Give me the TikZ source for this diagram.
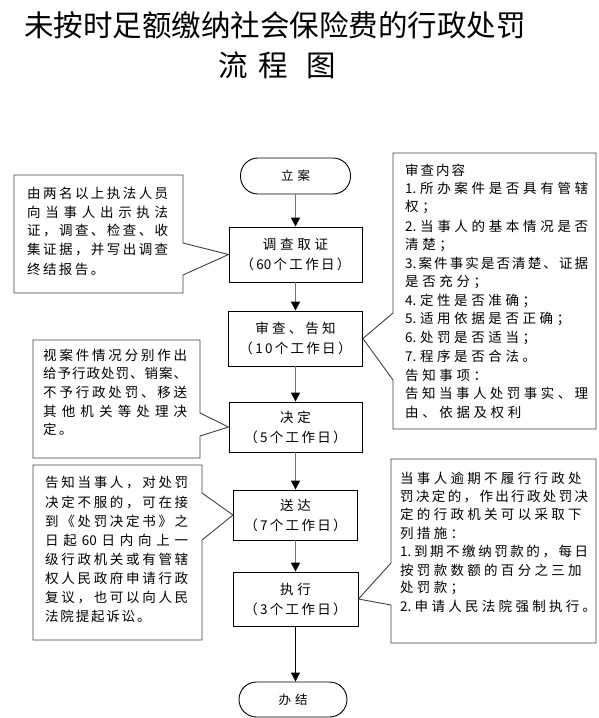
\documentclass[tikz,border=0pt]{standalone}
\usepackage{fontspec}
\setmainfont{Noto Sans CJK SC}
\usetikzlibrary{arrows.meta}
\newdimen\jgap
\newdimen\jw
\def\jstop{JSTOP}
\newcommand\jfirst[1]{#1\jrest}
\newcommand\jrest[1]{\ifx\jstop#1\else\hskip\jgap plus 1fil\relax#1\expandafter\jrest\fi}
\newcommand\JL[1]{\hbox to\jw{\jfirst#1\jstop}}
\newcommand\NL[1]{\hbox{\jfirst#1\jstop}}
\newcommand\G[2]{{\setlength\jgap{#1}\NL{#2}}}
\newcommand\JG[2]{{\setlength\jgap{#1}\JL{#2}}}
\def\dA{1.}\def\dB{2.}\def\dC{3.}\def\dD{4.}\def\dE{5.}\def\dF{6.}\def\dG{7.}
\def\sixty{60}
\newcommand\fs{\fontsize{13.5}{16}\selectfont}
\begin{document}
\begin{tikzpicture}[x=1pt,y=-1pt,
  stepbox/.style={draw=black, line width=0.9pt, inner sep=0pt, align=center,
    font={\fontsize{13.5}{20}\selectfont}},
  term/.style={draw=black, line width=0.9pt, inner sep=0pt, minimum width=110pt,
    minimum height=36pt, rounded corners=17.5pt, font={\fontsize{12.5}{15}\selectfont}},
  conn/.style={draw=black!55, line width=1.5pt,
    -{Triangle[length=9pt,width=9pt,color=black,fill=black]}},
  callout/.style={draw=black!75, line width=0.9pt},
  txt/.style={anchor=west, inner sep=0pt, font=\fs},
  title/.style={inner sep=0pt, font={\fontsize{29.5}{33}\selectfont}}]
\useasboundingbox (0,0) rectangle (598,718);

% titles
\node[title] (t1) at (275,25) {未按时足额缴纳社会保险费的行政处罚};
\node[title] (t2) at (277,65) {流\hspace{11pt}程\hspace{18pt}图};

% main flow
\node[term] (s1) at (295.5,176) {\G{4pt}{立案}};
\node[stepbox, minimum width=133pt, minimum height=55pt] (s2) at (295.5,254.5)
  {\G{3.7pt}{调查取证}\\\G{2.3pt}{（\sixty 个工作日）}};
\node[stepbox, minimum width=134pt, minimum height=55pt] (s3) at (295.5,338.5)
  {\G{3.2pt}{审查、告知}\\\G{2.3pt}{（10个工作日）}};
\node[stepbox, minimum width=133pt, minimum height=50pt] (s4) at (295.5,427)
  {\G{3.7pt}{决定}\\\G{2.3pt}{（5个工作日）}};
\node[stepbox, minimum width=124pt, minimum height=50pt] (s5) at (295.5,515)
  {\G{3.7pt}{送达}\\\G{2.3pt}{（7个工作日）}};
\node[stepbox, minimum width=125pt, minimum height=54pt] (s6) at (295.5,599)
  {\G{3.7pt}{执行}\\\G{2.3pt}{（3个工作日）}};
\node[term, minimum width=108pt, minimum height=35pt] (s7) at (293,699.5) {\G{4pt}{办结}};

\draw[conn] (s1) -- (s2);
\draw[conn] (s2) -- (s3);
\draw[conn] (s3) -- (s4);
\draw[conn] (s4) -- (s5);
\draw[conn] (s5) -- (s6);
\draw[conn, draw=black, line width=0.9pt] (s6.south) -- (s6.south |- s7.north);

% callout 1
\draw[callout] (14,175) -- (183,175) -- (183,243) -- (s2.west) -- (183,275)
  -- (183,293) -- (14,293) -- cycle;
\setlength\jgap{2.4pt}\setlength\jw{141pt}
\foreach \tx [count=\i from 0] in {{\JL{由两名以上执法人员}},{\JL{向当事人出示执法}},
  {\JL{证，调查、检查、收}},{\JL{集证据，并写出调查}},{\NL{终结报告。}}}
  \node[txt] (a\i) at (27,193+19*\i) {\tx};

% callout 2
\draw[callout] (393,153) -- (596,153) -- (596,429) -- (393,429) -- (393,380)
  -- (s3.east) -- (393,313) -- cycle;
\setlength\jgap{3.6pt}\setlength\jw{183pt}
\foreach \tx [count=\i from 0] in {{\G{2pt}{审查内容}},{\JL{\dA 所办案件是否具有管辖}},{\NL{权；}},
  {\JL{\dB 当事人的基本情况是否}},{\NL{清楚；}},{\JG{0.5pt}{\dC 案件事实是否清楚、证据}},
  {\NL{是否充分；}},{\NL{\dD 定性是否准确；}},{\NL{\dE 适用依据是否正确；}},
  {\NL{\dF 处罚是否适当；}},{\NL{\dG 程序是否合法。}},{\NL{告知事项：}},
  {\JG{1.5pt}{告知当事人处罚事实、理}},{\NL{由、依据及权利}}}
  \node[txt] (b\i) at (405,170+18.65*\i) {\tx};

% callout 3
\draw[callout] (33,340) -- (200,340) -- (200,413) -- (s4.west) -- (200,436)
  -- (200,458) -- (33,458) -- cycle;
\setlength\jgap{2.4pt}\setlength\jw{144pt}
\foreach \tx [count=\i from 0] in {{\JL{视案件情况分别作出}},{\JG{0.5pt}{给予行政处罚、销案、}},
  {\JL{不予行政处罚、移送}},{\JL{其他机关等处理决}},{\NL{定。}}}
  \node[txt] (c\i) at (43,355+18.7*\i) {\tx};

% callout 4
\draw[callout] (33,465) -- (202,465) -- (202,493) -- (s5.west) -- (202,540)
  -- (202,640) -- (33,640) -- cycle;
\setlength\jgap{1.8pt}\setlength\jw{143pt}
\foreach \tx [count=\i from 0] in {{\JL{告知当事人，对处罚}},{\JL{决定不服的，可在接}},
  {\JL{到《处罚决定书》之}},{\JL{日起\sixty 日内向上一}},{\JL{级行政机关或有管辖}},
  {\JL{权人民政府申请行政}},{\JL{复议，也可以向人民}},{\NL{法院提起诉讼。}}}
  \node[txt] (d\i) at (45,483+19.1*\i) {\tx};

% callout 5
\draw[callout] (391,459) -- (596,459) -- (596,643) -- (391,643) -- (391,605)
  -- (s6.east) -- (391,563) -- cycle;
\setlength\jgap{3.3pt}\setlength\jw{188pt}
\foreach \tx [count=\i from 0] in {{\NL{当事人逾期不履行行政处}},{\JG{0.8pt}{罚决定的，作出行政处罚决}},
  {\NL{定的行政机关可以采取下}},{\NL{列措施：}},{\JG{0.8pt}{\dA 到期不缴纳罚款的，每日}},
  {\NL{按罚款数额的百分之三加}},{\NL{处罚款；}},{\NL{\dB 申请人民法院强制执行。}}}
  \node[txt] (e\i) at (400,478+18.4*\i) {\tx};
\end{tikzpicture}
\end{document}
